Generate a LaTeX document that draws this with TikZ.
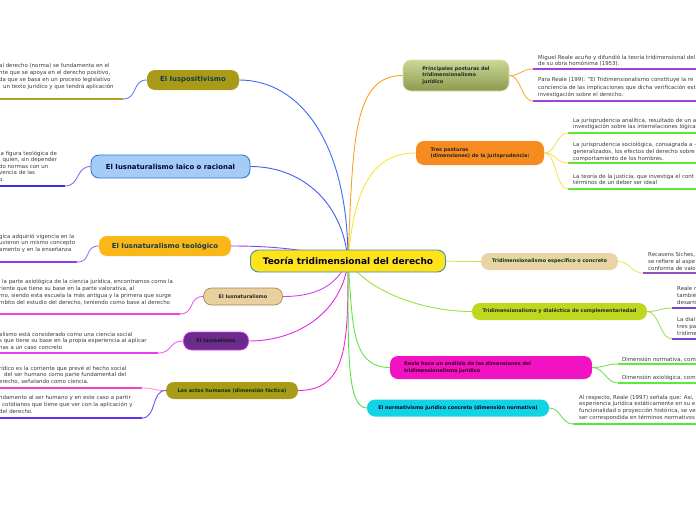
\documentclass[tikz,border=0pt]{standalone}
\usepackage{fontspec}
\setmainfont{DejaVu Sans}
\usetikzlibrary{backgrounds}
\definecolor{txt}{HTML}{3A3A3A}
\definecolor{cyel}{HTML}{FFE31A}
\definecolor{cbord}{HTML}{3B8DB5}
\definecolor{olive}{HTML}{A99B18}
\definecolor{lblue}{HTML}{A5CCF7}
\definecolor{dblue}{HTML}{2D6FD6}
\definecolor{gold}{HTML}{F9B817}
\definecolor{tan}{HTML}{E8D09F}
\definecolor{tanb}{HTML}{A88955}
\definecolor{purp}{HTML}{6A2B8C}
\definecolor{mag}{HTML}{E040F0}
\definecolor{orng}{HTML}{F68B1F}
\definecolor{tan2}{HTML}{EAD3A6}
\definecolor{ygreen}{HTML}{BFD81E}
\definecolor{pink}{HTML}{F012C3}
\definecolor{cyan2}{HTML}{12D3E3}
\definecolor{nodetxt}{HTML}{173B44}
\definecolor{gtop}{HTML}{CAD896}
\definecolor{gbot}{HTML}{8C9A50}
\definecolor{gbrd}{HTML}{D6E4A8}
\tikzset{
  x=1pt, y=-1pt,
  body/.style={font=\fontsize{5.45}{6.8}\selectfont, text=txt, inner sep=0pt, align=left, anchor=north west},
  capsule/.style={rounded corners=8pt, inner sep=0pt, align=center},
  big/.style={capsule, font=\fontsize{6.9}{8}\selectfont\bfseries, text=nodetxt},
  small/.style={capsule, font=\fontsize{4.95}{6.5}\selectfont\bfseries, text=black!85, align=left},
  conn/.style={line width=0.9pt},
  uline/.style={line width=1.8pt},
}
\begin{document}
\begin{tikzpicture}
\useasboundingbox (0,0) rectangle (696,520);

% central node
\node[capsule, minimum width=195pt, minimum height=22pt, fill=cyel, draw=cbord, line width=0.9pt,
  font=\fontsize{9}{10}\selectfont\bfseries, text=black!85!blue] (c) at (348,261) {Teoría tridimensional del derecho};

% left main nodes
\node[big, minimum width=92pt, minimum height=20pt, fill=olive] (pos) at (193,80) {El Iuspositivismo};
\node[big, minimum width=159pt, minimum height=23pt, fill=lblue, draw=dblue, line width=0.8pt, text=black!80!blue] (laico) at (170.5,166.5) {El Iusnaturalismo laico o racional};
\node[big, minimum width=132pt, minimum height=20pt, fill=gold] (teo) at (165,246) {El Iusnaturalismo teológico};
\node[small, minimum width=79pt, minimum height=17pt, fill=tan, draw=tanb, line width=0.7pt] (nat) at (243,296.5) {El Iusnaturalismo};
\node[small, minimum width=65pt, minimum height=18pt, fill=purp, draw=mag, line width=0.7pt, text=black!90] (real) at (216,341) {El Iusrealismo};
\node[small, minimum width=132pt, minimum height=17pt, fill=olive, text=black!80!green] (actos) at (232,390.5) {Los actos humanos (dimensión fáctica)};

% right main nodes
\node[small, minimum width=106pt, minimum height=31pt, top color=gtop, bottom color=gbot, draw=gbrd, line width=0.7pt] (prin) at (456,75.5) {Principales posturas del\\tridimensionalismo\\jurídico};
\node[small, minimum width=128pt, minimum height=24pt, fill=orng] (tres) at (480,153) {Tres posturas\\(dimensiones) de la jurisprudencia:};
\node[small, minimum width=137pt, minimum height=17pt, fill=tan2, text=black!75!green] (esp) at (549.5,261.5) {Tridimensionalismo específico o concreto};
\node[small, minimum width=175pt, minimum height=17pt, fill=ygreen] (comp) at (559.5,311.5) {Tridimensionalismo y dialéctica de complementariedad};
\node[small, minimum width=202pt, minimum height=23pt, fill=pink, inner xsep=14pt, text width=174pt, text=black!70!purple] (reale) at (491,367.5) {Reale hace un análisis de las dimensiones del\\tridimensionalismo jurídico};
\node[small, minimum width=182pt, minimum height=17pt, fill=cyan2, text=black!80!blue] (norm) at (458,408) {El normativismo jurídico concreto (dimensión normativa)};

% texts left
\node[body] (t1) at (-1,63.5) {al derecho (norma) se fundamenta en el\\nte que se apoya en el derecho positivo,\\da que se basa en un proceso legislativo\\\hspace*{4pt}un texto jurídico y que tendrá aplicación};
\node[body, font=\fontsize{5.45}{6.5}\selectfont] (t2) at (-1,150.5) {la figura teológica de\\, quien, sin depender\\do normas con un\\vencia de las\\o.};
\node[body] (t3) at (-1,233.5) {gica adquirió vigencia en la\\uvieron un mismo concepto\\amento y en la enseñanza};
\node[body, font=\fontsize{5.45}{7}\selectfont] (t4) at (-1,278.5) {\hspace*{3pt}la parte axiológica de la ciencia jurídica, encontramos como la\\riente que tiene su base en la parte valorativa, al\\mo, siendo esta escuela la más antigua y la primera que surge\\mbito del estudio del derecho, teniendo como base al derecho};
\node[body] (t5) at (-1,331.5) {alismo está considerado como una ciencia social\\s que tiene su base en la propia experiencia al aplicar\\nas a un caso concreto};
\node[body] (t6) at (-1,365.5) {rídico es la corriente que prevé el hecho social\\\hspace*{5pt}del ser humano como parte fundamental del\\erecho, señalando como ciencia.};
\node[body] (t7) at (-1,395.5) {ndamento al ser humano y en este caso a partir\\\hspace*{3pt}cotidianos que tiene que ver con la aplicación y\\del derecho.};

% texts right
\node[body] (r1) at (538,54.5) {Miguel Reale acuño y difundió la teoría tridimensional del\\de su obra homónima (1953).};
\node[body, font=\fontsize{5.45}{7.3}\selectfont] (r2) at (538,77.5) {Para Reale (199): "El Tridimensionalismo constituye la re\\conciencia de las implicaciones que dicha verificación est\\investigación sobre el derecho.};
\node[body] (r3) at (573,117.5) {La jurisprudencia analítica, resultado de un anál\\investigación sobre las interrelaciones lógicas de};
\node[body, font=\fontsize{5.45}{7}\selectfont] (r4) at (573,141.5) {La jurisprudencia sociológica, consagrada a -\\generalizados, los efectos del derecho sobre\\comportamiento de los hombres.};
\node[body] (r5) at (573,173.5) {La teoría de la justicia, que investiga el cont\\términos de un deber ser ideal};
\node[body] (r6) at (648,252.5) {Recasens Siches,\\se refiere al aspe\\conforma de valo};
\node[body] (r7) at (677,286.5) {Reale r\\tambié\\desarro};
\node[body] (r8) at (677,317.5) {La dial\\tres pa\\tridime};
\node[body] (r9) at (622,356.5) {Dimensión normativa, com};
\node[body] (r10) at (622,374.5) {Dimensión axiológica, com};
\node[body] (r11) at (579,394.5) {Al respecto, Reale (1997) señala que: Así,\\experiencia jurídica estáticamente en su e\\funcionalidad o proyección histórica, se ve\\ser correspondida en términos normativos};

% underline coordinates
\coordinate (a1) at (123,99);  \coordinate (b1) at (-2,99);
\coordinate (a2) at (65,186);  \coordinate (b2) at (-2,186);
\coordinate (a3) at (77,262);  \coordinate (b3) at (-2,262);
\coordinate (a4) at (180,314); \coordinate (b4) at (-2,314);
\coordinate (a5) at (158,353); \coordinate (b5) at (-2,353);
\coordinate (a6) at (142,388); \coordinate (b6) at (-2,388);
\coordinate (a7) at (142,418); \coordinate (b7) at (-2,418);
\coordinate (p1) at (533,69);  \coordinate (q1) at (698,69);
\coordinate (p2) at (533,101); \coordinate (q2) at (698,101);
\coordinate (p3) at (568,133); \coordinate (q3) at (698,133);
\coordinate (p4) at (568,163); \coordinate (q4) at (698,163);
\coordinate (p5) at (568,189); \coordinate (q5) at (698,189);
\coordinate (p6) at (643,273); \coordinate (q6) at (698,273);
\coordinate (p7) at (672,308); \coordinate (q7) at (698,308);
\coordinate (p8) at (672,339); \coordinate (q8) at (698,339);
\coordinate (p9) at (618,364); \coordinate (q9) at (698,364);
\coordinate (p10) at (618,383); \coordinate (q10) at (698,383);
\coordinate (p11) at (573,424); \coordinate (q11) at (698,424);

\begin{pgfonlayer}{background}
% central connectors
\draw[conn, draw={rgb,255:red,58;green,106;blue,248}] (c.center) .. controls +(0,-120) and +(60,0) .. (pos.east);
\draw[conn, draw={rgb,255:red,70;green,90;blue,240}] (c.center) .. controls +(-5,-60) and +(50,0) .. (laico.east);
\draw[conn, draw={rgb,255:red,140;green,70;blue,240}] (c.center) .. controls +(-40,-12) and +(40,0) .. (teo.east);
\draw[conn, draw={rgb,255:red,200;green,70;blue,240}] (c.center) .. controls +(-10,20) and +(40,0) .. (nat.east);
\draw[conn, draw={rgb,255:red,230;green,40;blue,230}] (c.center) .. controls +(-5,50) and +(50,0) .. (real.east);
\draw[conn, draw={rgb,255:red,240;green,40;blue,200}] (c.center) .. controls +(0,80) and +(50,0) .. (actos.east);
\draw[conn, draw={rgb,255:red,248;green,160;blue,40}] (c.center) .. controls +(5,-120) and +(-50,0) .. (prin.west);
\draw[conn, draw={rgb,255:red,248;green,228;blue,50}] (c.center) .. controls +(5,-60) and +(-50,0) .. (tres.west);
\draw[conn, draw={rgb,255:red,200;green,232;blue,80}] (c.center) .. controls +(60,-2) and +(-50,0) .. (esp.west);
\draw[conn, draw={rgb,255:red,150;green,228;blue,60}] (c.center) .. controls +(20,30) and +(-50,0) .. (comp.west);
\draw[conn, draw={rgb,255:red,100;green,228;blue,60}] (c.center) .. controls +(5,60) and +(-40,0) .. (reale.west);
\draw[conn, draw={rgb,255:red,80;green,228;blue,60}] (c.center) .. controls +(0,90) and +(-20,0) .. (norm.west);

% child connectors
\draw[conn, draw={rgb,255:red,96;green,128;blue,240}] (pos.west) .. controls +(-15,0) and +(15,0) .. (a1);
\draw[conn, draw={rgb,255:red,128;green,112;blue,240}] (laico.west) .. controls +(-15,0) and +(15,0) .. (a2);
\draw[conn, draw={rgb,255:red,160;green,112;blue,240}] (teo.west) .. controls +(-15,0) and +(15,0) .. (a3);
\draw[conn, draw={rgb,255:red,224;green,96;blue,240}] (nat.west) .. controls +(-15,0) and +(15,0) .. (a4);
\draw[conn, draw={rgb,255:red,240;green,96;blue,240}] (real.west) .. controls +(-15,0) and +(15,0) .. (a5);
\draw[conn, draw={rgb,255:red,248;green,144;blue,216}] (actos.west) .. controls +(-15,0) and +(15,0) .. (a6);
\draw[conn, draw={rgb,255:red,112;green,80;blue,240}] (actos.west) .. controls +(-15,0) and +(15,0) .. (a7);
\draw[conn, draw={rgb,255:red,248;green,176;blue,64}] (prin.east) .. controls +(12,0) and +(-12,0) .. (p1);
\draw[conn, draw={rgb,255:red,248;green,176;blue,64}] (prin.east) .. controls +(12,0) and +(-12,0) .. (p2);
\draw[conn, draw={rgb,255:red,248;green,224;blue,96}] (tres.east) .. controls +(12,0) and +(-12,0) .. (p3);
\draw[conn, draw={rgb,255:red,248;green,224;blue,96}] (tres.east) .. controls +(12,0) and +(-12,0) .. (p4);
\draw[conn, draw={rgb,255:red,248;green,224;blue,96}] (tres.east) .. controls +(12,0) and +(-12,0) .. (p5);
\draw[conn, draw={rgb,255:red,216;green,240;blue,96}] (esp.east) .. controls +(12,0) and +(-12,0) .. (p6);
\draw[conn, draw={rgb,255:red,160;green,224;blue,96}] (comp.east) .. controls +(12,0) and +(-12,0) .. (p7);
\draw[conn, draw={rgb,255:red,160;green,224;blue,96}] (comp.east) .. controls +(12,0) and +(-12,0) .. (p8);
\draw[conn, draw={rgb,255:red,112;green,224;blue,80}] (reale.east) .. controls +(12,0) and +(-12,0) .. (p9);
\draw[conn, draw={rgb,255:red,112;green,224;blue,80}] (reale.east) .. controls +(12,0) and +(-12,0) .. (p10);
\draw[conn, draw={rgb,255:red,112;green,224;blue,80}] (norm.east) .. controls +(12,0) and +(-12,0) .. (p11);

% underlines
\draw[uline, draw={rgb,255:red,176;green,160;blue,32}] (b1) -- (a1);
\draw[uline, draw={rgb,255:red,58;green,48;blue,224}] (b2) -- (a2);
\draw[uline, draw={rgb,255:red,138;green,64;blue,240}] (b3) -- (a3);
\draw[uline, draw={rgb,255:red,240;green,64;blue,232}] (b4) -- (a4);
\draw[uline, draw={rgb,255:red,232;green,64;blue,240}] (b5) -- (a5);
\draw[uline, draw={rgb,255:red,240;green,64;blue,200}] (b6) -- (a6);
\draw[uline, draw={rgb,255:red,96;green,48;blue,240}] (b7) -- (a7);
\draw[uline, draw={rgb,255:red,160;green,64;blue,224}] (p1) -- (q1);
\draw[uline, draw={rgb,255:red,160;green,64;blue,224}] (p2) -- (q2);
\draw[uline, draw={rgb,255:red,96;green,232;blue,48}] (p3) -- (q3);
\draw[uline, draw={rgb,255:red,96;green,232;blue,48}] (p4) -- (q4);
\draw[uline, draw={rgb,255:red,96;green,232;blue,48}] (p5) -- (q5);
\draw[uline, draw={rgb,255:red,144;green,80;blue,192}] (p6) -- (q6);
\draw[uline, draw={rgb,255:red,128;green,64;blue,208}] (p7) -- (q7);
\draw[uline, draw={rgb,255:red,128;green,64;blue,208}] (p8) -- (q8);
\draw[uline, draw={rgb,255:red,96;green,232;blue,64}] (p9) -- (q9);
\draw[uline, draw={rgb,255:red,96;green,232;blue,64}] (p10) -- (q10);
\draw[uline, draw={rgb,255:red,80;green,232;blue,64}] (p11) -- (q11);
\end{pgfonlayer}
\end{tikzpicture}
\end{document}
